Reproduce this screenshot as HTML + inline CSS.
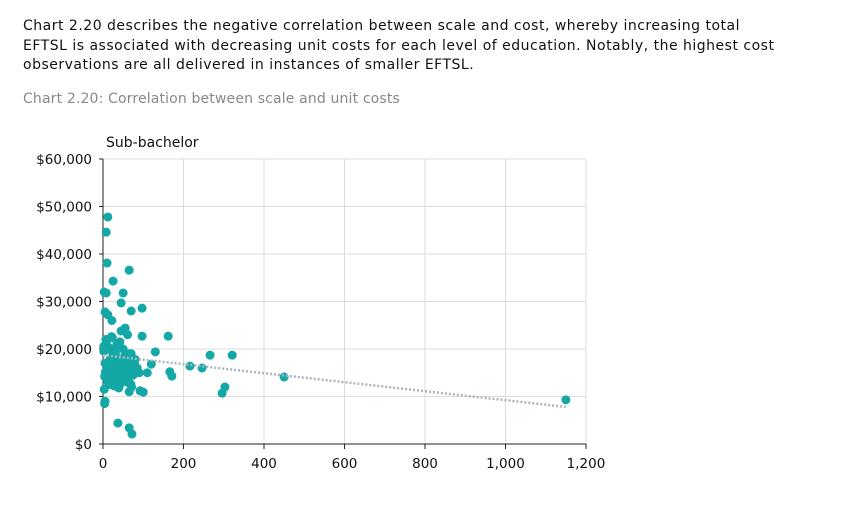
<!DOCTYPE html>
<html><head><meta charset="utf-8"><style>
body{margin:0;background:#fff;width:853px;height:519px;overflow:hidden;font-family:"DejaVu Sans","Liberation Sans",sans-serif}
#para{position:absolute;left:23px;top:17px;font-size:14px;letter-spacing:0.5px;line-height:19.7px;color:#111;width:830px;white-space:nowrap}
#cap{position:absolute;left:23px;top:91px;font-size:14px;letter-spacing:0.15px;color:#888;white-space:nowrap}
svg{position:absolute;left:0;top:0}
</style></head><body>
<div id="para">Chart 2.20 describes the negative correlation between scale and cost, whereby increasing total<br>EFTSL is associated with decreasing unit costs for each level of education. Notably, the highest cost<br>observations are all delivered in instances of smaller EFTSL.</div>
<div id="cap">Chart 2.20: Correlation between scale and unit costs</div>
<svg id="chart" width="853" height="519"></svg>
<script>
const xTicks=[0,200,400,600,800,1000,1200];
const xTickLabels=["0","200","400","600","800","1,000","1,200"];
const yTicks=[0,10000,20000,30000,40000,50000,60000];
const yTickLabels=["$0","$10,000","$20,000","$30,000","$40,000","$50,000","$60,000"];
const eftsl=[12,8,10,65,25,3,8,50,45,97,70,5,12,22,55,45,97,162,130,266,321,216,246,166,171,303,296,450,1150,37,65,72,92,100,5,4,65,
 2,5,8,10,15,20,25,30,35,40,45,50,55,60,65,70,75,80,3,7,12,18,22,28,33,38,42,48,52,58,62,68,72,78,85,90,4,9,14,19,24,29,34,39,44,49,54,59,64,69,74,6,11,16,21,26,31,36,41,46,51,56,61,66,71,2,6,13,17,23,27,32,37,43,47,53,57,63,67,110,120,85];
const unitCost=[47800,44600,38100,36600,34300,32000,31800,31800,29700,28600,28000,27800,27200,26000,24400,23800,22700,22700,19400,18700,18700,16400,16000,15200,14300,12000,10700,14100,9300,4400,3400,2100,11200,10900,9000,8500,11000,
 19500,17000,15000,13500,12500,16000,18500,14000,21000,12000,17500,20000,15500,13000,16500,19000,14500,17800,11500,22000,20500,13800,16800,12200,18200,15200,21500,13400,17200,16200,18800,14800,15800,17000,16000,15000,14200,21800,12800,19800,13200,15600,20800,11800,16600,14600,18600,15400,17400,12600,18000,14000,16400,20200,22600,13600,19200,15800,12400,17600,14400,16000,23000,19000,12000,20600,15200,13000,17800,22400,14800,16600,12800,16200,15800,16200,14600,13400,17400,15000,16800];
const trendX=[0,1150];
const trendY=[18700,7800];
const svg=document.getElementById('chart');const NS='http://www.w3.org/2000/svg';
const X0=103,X1=586,Y0=444,Y1=159;
const sx=v=>X0+(v-0)/(1200)*(X1-X0);
const sy=v=>Y0-(v/60000)*(Y0-Y1);
function mk(t,a){const e=document.createElementNS(NS,t);for(const k in a)e.setAttribute(k,a[k]);svg.appendChild(e);return e;}
yTicks.forEach((v,i)=>{if(v>0){const g=mk('line',{x1:X0,x2:X1,y1:sy(v),y2:sy(v),stroke:'#dcdcdc','stroke-width':1});

}
const t=mk('line',{x1:X0-4,x2:X0,y1:sy(v),y2:sy(v),stroke:'#222'});


const l=mk('text',{x:X0-11,y:sy(v)+5,'text-anchor':'end','font-size':13.5,fill:'#111'});l.textContent=yTickLabels[i];

});
xTicks.forEach((v,i)=>{if(v>0){const g=mk('line',{x1:sx(v),x2:sx(v),y1:Y1,y2:Y0,stroke:'#dcdcdc','stroke-width':1});

}
const t=mk('line',{x1:sx(v),x2:sx(v),y1:Y0,y2:Y0+5,stroke:'#222'});


const l=mk('text',{x:sx(v),y:Y0+24,'text-anchor':'middle','font-size':13.5,fill:'#111'});l.textContent=xTickLabels[i];

});
const ya=mk('line',{x1:X0,x2:X0,y1:Y1,y2:Y0,stroke:'#222'});


const xa=mk('line',{x1:X0,x2:X1,y1:Y0,y2:Y0,stroke:'#222'});


const ttl=mk('text',{x:106,y:147,'font-size':14,fill:'#111'});ttl.textContent='Sub-bachelor';


const n=Math.min(eftsl.length,unitCost.length);
for(let i=0;i<n;i++){const c=mk('circle',{cx:sx(eftsl[i]),cy:sy(unitCost[i]),r:4.5,fill:'#13a8a6'});

}
const tl=mk('line',{x1:sx(trendX[0]),y1:sy(trendY[0]),x2:sx(trendX[1]),y2:sy(trendY[1]),stroke:'#a9b4bc','stroke-width':2.5,'stroke-dasharray':'2,2'});


</script>
</body></html>
